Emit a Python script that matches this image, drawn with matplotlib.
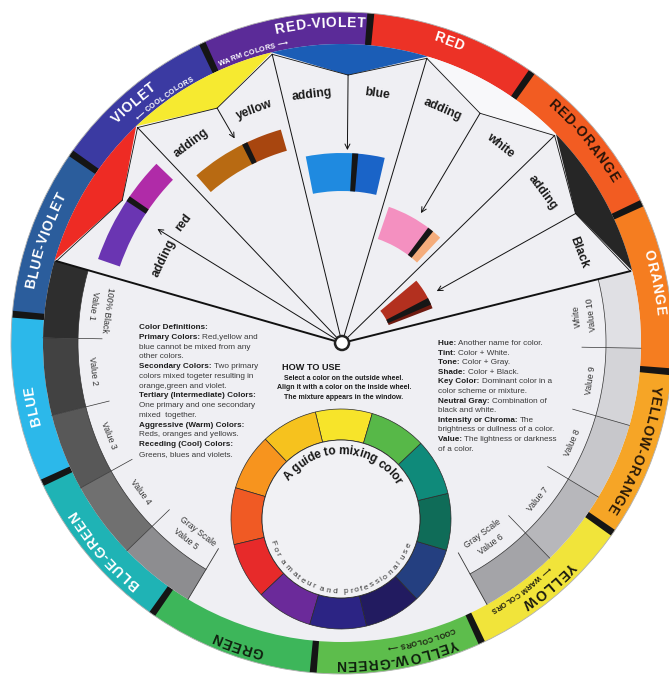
import numpy as np
import matplotlib
matplotlib.use("Agg")
import matplotlib.pyplot as plt
from matplotlib.patches import Wedge, Polygon, Circle
from matplotlib.font_manager import FontProperties

FAM = ['Liberation Sans', 'DejaVu Sans']
plt.rcParams['font.family'] = FAM

# ---- outer ring (hue names, sector start angle, colours) ----
ring_names = ["RED", "RED-ORANGE", "ORANGE", "YELLOW-ORANGE", "YELLOW", "YELLOW-GREEN",
              "GREEN", "BLUE-GREEN", "BLUE", "BLUE-VIOLET", "VIOLET", "RED-VIOLET"]
ring_starts = [55, 25, -5, -35, -65, -95, -125, -155, 175, 145, 115, 85]
ring_colors = ['#ec3226', '#f25c22', '#f57d20', '#f6a526', '#f1e43a', '#5dbd4c',
               '#3db65a', '#1fb3b5', '#2cb8ea', '#2b5d9c', '#3b3aa2', '#5b2b98']
label_angles = [70.5, 40, 11, -20, -49.5, -80, -109, -139, 191.5, 161, 131, 94]
label_radii = [320, 318, 319, 317, 319, 321, 320, 318, 316, 316, 318, 320]
label_colors = ['white', '#2a1408', 'white', '#2a1a08', '#1a1a10', '#10200f',
                '#10200f', 'white', 'white', 'white', 'white', 'white']

notes = ["\u27f5 COOL COLORS", "WARM COLORS \u27f6", "COOL COLORS \u27f6", "\u27f5 WARM COLORS"]
note_angles = [126, 107, 285, 306]
note_radii = [303, 304, 307, 305]
note_colors = ['white', 'white', '#1a1a10', '#1a1a10']

# ---- gray scale band ----
gray_labels = ["Value %d" % v for v in range(1, 11)]
gray_colors = ['#2e2e2e', '#424242', '#585858', '#707070', '#8d8d90',
               '#a4a4a8', '#b7b7bb', '#c7c7cb', '#d4d4d8', '#e0e0e4']
gray_starts = [164, 179, 194, 209, 224, -61, -46, -31, -16, -1]
gray_notes = ["100% Black", "Gray Scale", "Gray Scale", "White"]
gray_note_angles = [172, 232.5, 306.5, 6.5]

# ---- pointer shapes on the top disc ----
pointer_edges = [164, 133.5, 103.6, 73.4, 44.3, 14]
pointer_tip_angles = [147, 118, 88.7, 59, 29]
pointer_tip_radii = [262, 266, 268, 268, 267]
pointer_colors = ['#ee2b24', '#f6ea30', '#1b5db6', '#f8f8fa', '#262626']
arrow_to_radii = [217, 231, 193, 152, 108]

# ---- windows ----
win_inner = [235, 200, 152, 110, 50]
win_outer = [258, 222, 190, 144, 97]
win_lo = [136, 106, 77, 47, 21]
win_hi = [161, 131, 101, 71, 40]
win_split = [146, 116, 86, 52, 25.5]
win_color_lo = ['#b02ba8', '#a8460f', '#1a64c8', '#f5ad7c', '#6e1a10']
win_color_hi = ['#6a35b2', '#b86a12', '#1f8ae0', '#f490c0', '#b3301f']

sector_words = ["adding", "red", "adding", "yellow", "adding", "blue",
                "adding", "white", "adding", "Black"]
sector_word_angles = [154.5, 142.6, 127, 110.5, 97, 82, 66.6, 51.4, 36.9, 20.9]
sector_word_radii = [197, 199, 250, 249, 250, 252, 254, 253, 251, 253]

# ---- small inner wheel ----
small_starts = [73.5, 103.5, 133.5, 163.5, 193.5, 223.5, 253.5, 283.5, 313.5, 343.5, 13.5, 43.5]
small_colors = ['#f7e42a', '#f6c21e', '#f7941e', '#f05a24', '#e72a2a', '#6b2a9a',
                '#2c2484', '#221b60', '#243f80', '#0f6c58', '#0f8a7a', '#57b848']

defs_left = [("Color Definitions:", ""), ("Primary Colors: ", "Red,yellow and"),
             ("", "blue cannot be mixed from any"), ("", "other colors."),
             ("Secondary Colors: ", "Two primary"), ("", "colors mixed togeter resulting in"),
             ("", "orange,green and violet."), ("Tertiary (Intermediate) Colors:", ""),
             ("", "One primary and one secondary"), ("", "mixed  together."),
             ("Aggressive (Warm) Colors:", ""), ("", "Reds, oranges and yellows."),
             ("Receding (Cool) Colors:", ""), ("", "Greens, blues and violets.")]
defs_right = [("Hue: ", "Another name for color."), ("Tint: ", "Color + White."),
              ("Tone: ", "Color + Gray."), ("Shade: ", "Color + Black."),
              ("Key Color: ", "Dominant color in a"), ("", "color scheme or mixture."),
              ("Neutral Gray: ", "Combination of"), ("", "black and white."),
              ("Intensity or Chroma: ", "The"), ("", "brightness or dullness of a color."),
              ("Value: ", "The lightness or darkness"), ("", "of a color.")]
how_to = ["Select a color on the outside wheel.",
          "Align it with a color on the inside wheel.",
          "The mixture appears in the window."]

fig = plt.figure(figsize=(6.69, 6.79), dpi=100)
ax = fig.add_axes([0, 0, 1, 1])
ax.set_xlim(-342, 327)
ax.set_ylim(-336, 343)
ax.axis('off')
renderer = fig.canvas.get_renderer()


def pol(r, a, cx=0, cy=0):
    t = np.radians(a)
    return cx + r * np.cos(t), cy + r * np.sin(t)


def fprop(size, weight='normal'):
    return FontProperties(family=FAM, size=size, weight=weight)


def text_w(s, fp):
    w1 = renderer.get_text_width_height_descent(s + '|', fp, False)[0]
    w2 = renderer.get_text_width_height_descent('|', fp, False)[0]
    return w1 - w2


def curved_text(s, r, center, fp, color, outward=True, spread=1.0, span=None, cx=0, cy=0):
    total = text_w(s, fp)
    if span is not None:
        spread = np.radians(span) * r / total
    L = total * spread
    for i, ch in enumerate(s):
        if ch == ' ':
            continue
        off = (text_w(s[:i], fp) + text_w(s[:i + 1], fp)) / 2 * spread
        d = np.degrees((L / 2 - off) / r)
        if outward:
            th = center + d
            rot = th - 90
        else:
            th = center - d
            rot = th + 90
        x, y = pol(r, th, cx, cy)
        ax.text(x, y, ch, fontproperties=fp, color=color, rotation=rot,
                rotation_mode='anchor', ha='center', va='center', zorder=8)


# outer ring
for a0, c in zip(ring_starts, ring_colors):
    ax.add_patch(Wedge((0, 0), 331, a0, a0 + 30, width=33, facecolor=c, edgecolor='none', zorder=1))
for a0 in ring_starts:
    ax.add_patch(Wedge((0, 0), 331, a0 - 0.6, a0 + 0.6, width=33, facecolor='#151515',
                       edgecolor='none', zorder=2))
ax.add_patch(Circle((0, 0), 331, facecolor='none', edgecolor='#b0b0b0', lw=0.6, zorder=2))

# inner disc
ax.add_patch(Circle((0, 0), 299, facecolor='#efeff3', edgecolor='none', zorder=2))

# gray band
for a0, c in zip(gray_starts, gray_colors):
    ax.add_patch(Wedge((0, 0), 299, a0, a0 + 15, width=35, facecolor=c, edgecolor='none', zorder=3))
for grp in (gray_starts[:5], gray_starts[5:]):
    a_lo, a_hi = grp[0], grp[-1] + 15
    t = np.linspace(a_lo, a_hi, 80)
    ax.plot(264 * np.cos(np.radians(t)), 264 * np.sin(np.radians(t)), color='#333', lw=0.5, zorder=4)
    for a in grp[1:]:
        x, y = zip(pol(240, a), pol(299, a))
        ax.plot(x, y, color='#333', lw=0.5, zorder=4)
x, y = zip(pol(240, gray_starts[4] + 15), pol(299, gray_starts[4] + 15))
ax.plot(x, y, color='#333', lw=0.6, zorder=4)
x, y = zip(pol(240, gray_starts[5]), pol(299, gray_starts[5]))
ax.plot(x, y, color='#333', lw=0.6, zorder=4)
for a0, lab in zip(gray_starts, gray_labels):
    a = a0 + 7.5
    x, y = pol(251, a)
    ax.text(x, y, lab, fontsize=6.2, color='#333', rotation=a + 90, rotation_mode='anchor',
            ha='center', va='center', zorder=8)
for lab, a in zip(gray_notes, gray_note_angles):
    x, y = pol(237, a)
    ax.text(x, y, lab, fontsize=6.2, color='#333', rotation=a + 90, rotation_mode='anchor',
            ha='center', va='center', zorder=8)

# pointer shapes
for i, c in enumerate(pointer_colors):
    a_hi, a_lo = pointer_edges[i], pointer_edges[i + 1]
    t = np.linspace(a_hi, a_lo, 40)
    pts = [pol(299, a) for a in t] + [pol(pointer_tip_radii[i], pointer_tip_angles[i])]
    ax.add_patch(Polygon(pts, closed=True, facecolor=c, edgecolor='none', zorder=3))
    tip = pol(pointer_tip_radii[i], pointer_tip_angles[i])
    for a in (a_hi, a_lo):
        p = pol(297, a)
        ax.plot([p[0], tip[0]], [p[1], tip[1]], color='#111', lw=0.6, zorder=4)

# windows
for i in range(5):
    ri, ro = win_inner[i], win_outer[i]
    ax.add_patch(Wedge((0, 0), ro, win_lo[i], win_split[i], width=ro - ri,
                       facecolor=win_color_lo[i], edgecolor='none', zorder=3))
    ax.add_patch(Wedge((0, 0), ro, win_split[i], win_hi[i], width=ro - ri,
                       facecolor=win_color_hi[i], edgecolor='none', zorder=3))
    dw = np.degrees(5.5 / ((ri + ro) / 2))
    ax.add_patch(Wedge((0, 0), ro, win_split[i] - dw / 2, win_split[i] + dw / 2, width=ro - ri,
                       facecolor='#161616', edgecolor='none', zorder=3))

# lines from the pivot
for a in pointer_edges:
    lw = 1.4 if a in (pointer_edges[0], pointer_edges[-1]) else 0.7
    x, y = pol(297, a)
    ax.plot([0, x], [0, y], color='#111', lw=lw, zorder=4)

# arrows
for i in range(5):
    end = pol(arrow_to_radii[i], pointer_tip_angles[i] + (1.3 if i == 0 else -0.3))
    start = (0, 0) if i == 0 else pol(pointer_tip_radii[i], pointer_tip_angles[i])
    ax.annotate('', xy=end, xytext=start,
                arrowprops=dict(arrowstyle='->', color='#111', lw=0.7, mutation_scale=9,
                                shrinkA=0, shrinkB=0), zorder=5)

for w, a, r in zip(sector_words, sector_word_angles, sector_word_radii):
    x, y = pol(r, a)
    ax.text(x, y, w, fontsize=8.8, fontweight='bold', color='#1a1a1a', rotation=a - 90,
            rotation_mode='anchor', ha='center', va='center', zorder=8)

# ring labels
fp_ring = fprop(10, 'bold')
for name, a, r, c in zip(ring_names, label_angles, label_radii, label_colors):
    curved_text(name, r, a, fp_ring, c, outward=True, spread=1.1)
fp_note = fprop(5.3, 'bold')
for s, a, r, c in zip(notes, note_angles, note_radii, note_colors):
    curved_text(s, r, a, fp_note, c, outward=True, spread=1.05)

# definitions
def rich_lines(lines, x0, y0, step, fs):
    fb = fprop(fs, 'bold')
    fr = fprop(fs)
    for i, (b, rest) in enumerate(lines):
        y = y0 - i * step
        w = 0
        if b:
            ax.text(x0, y, b, fontproperties=fb, color='#1e1e1e', va='baseline', zorder=8)
            w = text_w(b, fb)
        if rest:
            ax.text(x0 + w, y, rest, fontproperties=fr, color='#3a3a3a', va='baseline', zorder=8)

rich_lines(defs_left, -203, 343 - 329, 9.77, 5.9)
rich_lines(defs_right, 96, 343 - 345, 9.6, 5.9)

ax.text(-60, 343 - 370, "HOW TO USE", fontsize=6.6, fontweight='bold', color='#1a1a1a',
        va='baseline', zorder=8)
for i, s in enumerate(how_to):
    ax.text(2, 343 - 380 - i * 9.3, s, fontsize=5.0, fontweight='bold', color='#1a1a1a',
            ha='center', va='baseline', zorder=8)

# small wheel
scx, scy = -1, -176
for a0, c in zip(small_starts, small_colors):
    ax.add_patch(Wedge((scx, scy), 110, a0, a0 + 30, width=31, facecolor=c,
                       edgecolor='#2a2a2a', lw=0.5, zorder=3))
ax.add_patch(Circle((scx, scy), 79, facecolor='#f1f1f4', edgecolor='#2a2a2a', lw=0.6, zorder=3))
curved_text("A guide to mixing color", 68, 88, fprop(8.6, 'bold'), '#151515', outward=True, span=112,
            cx=scx, cy=scy)
curved_text("For amateur and professional use", 73, 269, fprop(6.0), '#333333', outward=False,
            span=145, cx=scx, cy=scy)

# pivot
ax.add_patch(Circle((0, 0), 7, facecolor='white', edgecolor='#222', lw=1.8, zorder=6))

fig.savefig("out.png", dpi=100, facecolor='white')
